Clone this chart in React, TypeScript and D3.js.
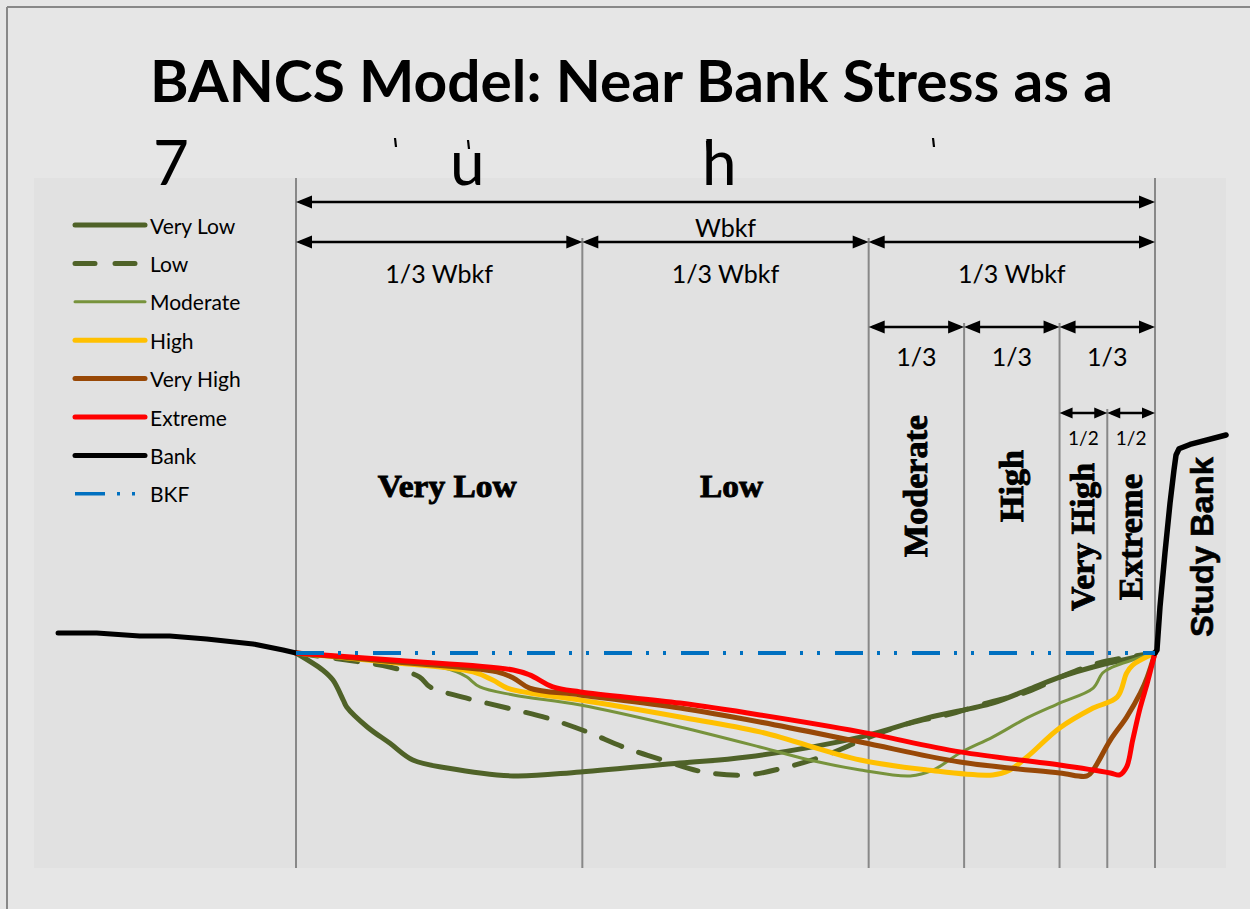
import React from "react";
import * as d3 from "d3";

// station = % of bankfull width (0 = far edge, 100 = study bank)
// depth = units below bankfull stage (negative is above BKF)
type Pt = [number, number];

const bankLeft: Pt[] = [
  [-27.7, -0.93], [-23.2, -0.93], [-18.2, -0.79], [-14.7, -0.79],
  [-10.4, -0.65], [-5.0, -0.42], [-1.5, -0.14], [0, 0],
];
const bankRight: Pt[] = [
  [100, 0], [100.23, -0.14], [100.58, -2.14], [101.16, -4.65], [101.75, -6.98],
  [102.21, -8.51], [102.45, -9.21], [102.8, -9.5], [104.07, -9.7], [108.27, -10.14],
];

const veryLow: Pt[] = [
  [0, 0], [3.1, 0.79], [4.3, 1.26], [5.5, 2.19], [5.9, 2.51], [8.3, 3.44],
  [10.9, 4.19], [13.6, 4.98], [17.6, 5.35], [25.3, 5.72], [33.1, 5.53],
  [44.7, 5.12], [52.5, 4.84], [65.7, 3.91], [73.5, 3.02], [81.1, 2.33],
  [85.1, 1.72], [88.9, 1.12], [92.8, 0.65], [100, 0],
];
const low: Pt[] = [
  [0, 0], [5.9, 0.33], [10.9, 0.65], [14.4, 1.12], [15.6, 1.58], [19.4, 2.05],
  [24.6, 2.56], [29.2, 3.02], [33.9, 3.67], [38.1, 4.37], [42.7, 4.98],
  [47.4, 5.53], [52.5, 5.67], [57.2, 5.3], [61.8, 4.74], [66.5, 3.95],
  [71.5, 3.26], [75.8, 2.88], [80.4, 2.33], [85.1, 1.81], [89.8, 0.98],
  [93.9, 0.42], [100, 0],
];
const moderate: Pt[] = [
  [0, 0], [9.8, 0.33], [15.6, 0.56], [18.7, 0.88], [19.9, 1.12], [21.4, 1.58],
  [25.3, 1.95], [33.1, 2.42], [44.7, 3.44], [54.0, 4.37], [59.8, 4.98],
  [65.7, 5.44], [71.5, 5.72], [74.2, 5.44], [77.3, 4.65], [81.1, 3.91],
  [85.1, 3.02], [88.9, 2.33], [92.8, 1.63], [93.9, 0.93], [95.1, 0.65], [100, 0],
];
const high: Pt[] = [
  [0, 0], [10.0, 0.4], [20.6, 0.88], [22.9, 1.26], [24.6, 1.63], [27.2, 1.86],
  [33.1, 2.19], [44.7, 2.98], [54.0, 3.67], [65.7, 4.98], [73.5, 5.44],
  [81.1, 5.67], [83.1, 5.44], [85.1, 4.84], [88.9, 3.49], [92.8, 2.56],
  [95.6, 2.05], [96.7, 0.93], [97.4, 0.56], [100, 0],
];
const veryHigh: Pt[] = [
  [0, 0], [11.0, 0.4], [23.4, 0.88], [25.3, 1.16], [27.2, 1.63], [33.1, 1.95],
  [44.7, 2.56], [54.0, 3.21], [65.7, 4.14], [77.3, 5.07], [88.9, 5.58],
  [92.1, 5.72], [92.8, 5.44], [94.8, 4.05], [96.7, 2.98], [98.3, 1.86],
  [99.1, 1.12], [100, 0],
];
const extreme: Pt[] = [
  [0, 0], [12.0, 0.35], [25.3, 0.79], [27.2, 1.02], [29.9, 1.58], [33.1, 1.81],
  [44.7, 2.33], [54.0, 2.88], [65.7, 3.67], [77.3, 4.6], [88.9, 5.21],
  [94.8, 5.58], [95.9, 5.67], [96.7, 5.3], [97.4, 4.05], [98.3, 2.51],
  [99.1, 1.4], [99.7, 0.47], [100, 0],
];
const bkf: Pt[] = [[0, 0], [100, 0]];

// zone boundaries (station %), and the arrow row each divider starts from
const dividers = [0, 100 / 3, 200 / 3, 700 / 9, 800 / 9, 850 / 9, 100];
const dividerRows = [-1, 1, 1, 2, 2, 3, -1];

// dimension arrows: [from, to, row, label]
const spans: [number, number, number, string][] = [
  [0, 100, 0, "Wbkf"],
  [0, 100 / 3, 1, "1/3 Wbkf"],
  [100 / 3, 200 / 3, 1, "1/3 Wbkf"],
  [200 / 3, 100, 1, "1/3 Wbkf"],
  [200 / 3, 700 / 9, 2, "1/3"],
  [700 / 9, 800 / 9, 2, "1/3"],
  [800 / 9, 100, 2, "1/3"],
  [800 / 9, 850 / 9, 3, "1/2"],
  [850 / 9, 100, 3, "1/2"],
];

const zoneNames = ["Very Low", "Low", "Moderate", "High", "Very High", "Extreme"];

const legendNames = ["Very Low", "Low", "Moderate", "High", "Very High", "Extreme", "Bank", "BKF"];

const W = 1250;
const H = 909;
const plot = { left: 34, top: 178, right: 1226, bottom: 868 };
const rowY = [202, 242, 327, 413];
const labelOff = [35, 41, 39, 32];
const labelSize = [25, 25, 25, 19];

const sans = "Lato, 'Open Sans', sans-serif";
const serif = "'Liberation Serif', 'DejaVu Serif', serif";

const x = d3.scaleLinear().domain([0, 100]).range([296, 1155]);
const y = d3.scaleLinear().domain([0, 10]).range([653, 868]);

const smooth = d3
  .line<Pt>()
  .x((d) => x(d[0]))
  .y((d) => y(d[1]))
  .curve(d3.curveCatmullRom.alpha(0.5));
const straight = d3
  .line<Pt>()
  .x((d) => x(d[0]))
  .y((d) => y(d[1]));

const styles: Record<string, { color: string; width: number; dash?: string }> = {
  "Very Low": { color: "#4f6228", width: 5 },
  Low: { color: "#4f6228", width: 5, dash: "22,18" },
  Moderate: { color: "#77933c", width: 3 },
  High: { color: "#ffc000", width: 5 },
  "Very High": { color: "#984807", width: 5 },
  Extreme: { color: "#ff0000", width: 5 },
  Bank: { color: "#000000", width: 5 },
  BKF: { color: "#0070c0", width: 4, dash: "28,14,3,14,3,15" },
};

function Arrow({ x1, x2, yy, small }: { x1: number; x2: number; yy: number; small: boolean }) {
  const hl = small ? 13 : 16;
  const hw = small ? 5.5 : 6.5;
  return (
    <g>
      <line x1={x1 + 4} x2={x2 - 4} y1={yy} y2={yy} stroke="#000" strokeWidth={2.5} />
      <path d={`M${x1},${yy}L${x1 + hl},${yy - hw}L${x1 + hl},${yy + hw}Z`} fill="#000" />
      <path d={`M${x2},${yy}L${x2 - hl},${yy - hw}L${x2 - hl},${yy + hw}Z`} fill="#000" />
    </g>
  );
}

export default function App() {
  const series: [string, Pt[]][] = [
    ["Very Low", veryLow],
    ["Low", low],
    ["Moderate", moderate],
    ["High", high],
    ["Very High", veryHigh],
    ["Extreme", extreme],
  ];

  const zoneMid = (i: number) => (x(dividers[i]) + x(dividers[i + 1])) / 2;

  return (
    <svg
      width={W}
      height={H}
      style={{ position: "absolute", left: 0, top: 0, background: "#e6e6e6" }}
    >
      <rect x={0} y={0} width={W} height={H} fill="#e6e6e6" />
      <line x1={7} x2={W} y1={7} y2={7} stroke="#888" strokeWidth={2} />
      <line x1={7} x2={7} y1={7} y2={H} stroke="#888" strokeWidth={2} />
      <rect
        x={plot.left}
        y={plot.top}
        width={plot.right - plot.left}
        height={plot.bottom - plot.top}
        fill="#e1e1e1"
      />

      {/* title */}
      <text x={150} y={102} fontFamily={sans} fontWeight="bold" fontSize={58} textLength={963} lengthAdjust="spacingAndGlyphs">
        BANCS Model: Near Bank Stress as a
      </text>
      <g fontFamily={sans} fontSize={62} fill="#000">
        <text x={153} y={185}>7</text>
        <text x={450} y={185}>u</text>
        <text x={702} y={185}>h</text>
      </g>
      {/* stray glyph marks on the second title line */}
      <g stroke="#000" strokeWidth={2.2}>
        <line x1={395} x2={396} y1={138} y2={147} />
        <line x1={468} x2={469} y1={140} y2={149} />
        <line x1={707} x2={708} y1={141} y2={151} />
        <line x1={933} x2={934} y1={138} y2={147} />
      </g>

      {/* zone dividers */}
      {dividers.map((d, i) => (
        <line
          key={i}
          x1={x(d)}
          x2={x(d)}
          y1={dividerRows[i] < 0 ? plot.top : rowY[dividerRows[i]] - 4}
          y2={plot.bottom}
          stroke="#888"
          strokeWidth={2}
        />
      ))}

      {/* dimension arrows */}
      {spans.map(([a, b, row, label], i) => (
        <g key={i}>
          <Arrow x1={x(a)} x2={x(b)} yy={rowY[row]} small={row === 3} />
          <text
            x={(x(a) + x(b)) / 2}
            y={rowY[row] + labelOff[row]}
            textAnchor="middle"
            fontFamily={sans}
            fontSize={labelSize[row]}
          >
            {label}
          </text>
        </g>
      ))}

      {/* zone labels */}
      {zoneNames.map((name, i) => {
        const cx = zoneMid(i);
        if (i < 2) {
          return (
            <text
              key={name}
              x={cx + (i === 0 ? 8 : 6)}
              y={497}
              textAnchor="middle"
              fontFamily={serif}
              fontWeight="bold"
              fontSize={32}
              stroke="#000"
              strokeWidth={0.9}
              textLength={i === 0 ? 139 : 63}
              lengthAdjust="spacingAndGlyphs"
            >
              {name}
            </text>
          );
        }
        const cy = i < 4 ? 486 : 537;
        const len = [0, 0, 142, 72, 148, 126][i];
        return (
          <text
            key={name}
            transform={`translate(${cx},${cy}) rotate(-90)`}
            textAnchor="middle"
            dominantBaseline="central"
            fontFamily={serif}
            fontWeight="bold"
            fontSize={33}
            stroke="#000"
            strokeWidth={0.9}
            textLength={len}
            lengthAdjust="spacingAndGlyphs"
          >
            {name}
          </text>
        );
      })}
      <text
        transform={`translate(1202,547) rotate(-90)`}
        textAnchor="middle"
        dominantBaseline="central"
        fontFamily="'Liberation Sans', Arial, sans-serif"
        fontWeight="bold"
        fontSize={31}
        stroke="#000"
        strokeWidth={0.6}
        textLength={180}
        lengthAdjust="spacingAndGlyphs"
      >
        Study Bank
      </text>

      {/* channel profiles */}
      {series.map(([name, pts]) => (
        <path
          key={name}
          d={smooth(pts) || ""}
          fill="none"
          stroke={styles[name].color}
          strokeWidth={styles[name].width}
          strokeDasharray={styles[name].dash}
          strokeLinecap="round"
          strokeLinejoin="round"
        />
      ))}
      <path d={straight(bankLeft) || ""} fill="none" stroke="#000" strokeWidth={5} strokeLinecap="round" strokeLinejoin="round" />
      <path d={straight(bankRight) || ""} fill="none" stroke="#000" strokeWidth={5.5} strokeLinecap="round" strokeLinejoin="round" />
      <path d={straight(bkf) || ""} fill="none" stroke={styles.BKF.color} strokeWidth={4} strokeDasharray={styles.BKF.dash} />

      {/* legend */}
      {legendNames.map((name, i) => {
        const ly = 225 + i * 38.4;
        const s = styles[name];
        return (
          <g key={name}>
            <line
              x1={75}
              x2={145}
              y1={ly}
              y2={ly}
              stroke={s.color}
              strokeWidth={name === "Moderate" ? 3 : name === "BKF" ? 3.5 : 5}
              strokeLinecap={name === "BKF" ? "butt" : "round"}
              strokeDasharray={name === "Low" ? "20,20" : name === "BKF" ? "30,12,3,12,3,20" : undefined}
            />
            <text x={150} y={ly} dominantBaseline="central" fontFamily={sans} fontSize={21}>
              {name}
            </text>
          </g>
        );
      })}
    </svg>
  );
}
